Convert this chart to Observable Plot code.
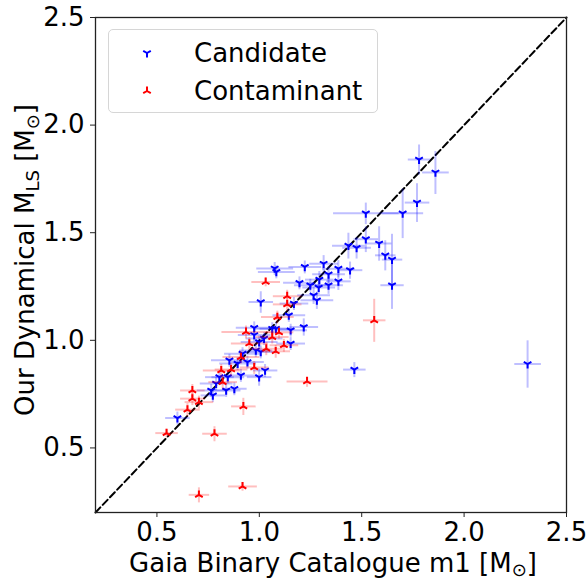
<!DOCTYPE html>
<html>
<head>
<meta charset="utf-8">
<script src="https://cdn.jsdelivr.net/npm/d3@7"></script>
<script src="https://cdn.jsdelivr.net/npm/@observablehq/plot@0.6"></script>
<style>
  html, body { margin: 0; padding: 0; background: white; }
  #wrap { position: relative; width: 586px; height: 583px; font-family: "DejaVu Sans", sans-serif; }
  #legend { position: absolute; left: 108px; top: 29px; width: 270px; height: 84px; box-sizing: border-box;
            border: 1px solid #d6d6d6; border-radius: 5px; background: rgba(255,255,255,0.85); }
  .lrow { position: absolute; left: 0; height: 30px; display: flex; align-items: center; font-size: 26px; color: black; }
  .lrow svg { position: absolute; left: 31px; }
  .lrow span { position: absolute; left: 85px; white-space: nowrap; }
</style>
</head>
<body>
<div id="wrap"></div>
<script>
// ---- data ----
const xTicks = [0.5, 1.0, 1.5, 2.0, 2.5];
const yTicks = [0.5, 1.0, 1.5, 2.0, 2.5];
const diag = [0.2, 2.5];

const candX  = [2.31,1.78,1.86,1.77,1.70,1.52,1.585,1.435,1.475,1.52,1.615,1.648,1.648,1.443,1.386,1.338,1.314,1.386,1.222,1.075,1.083,1.196,1.249,1.293,1.338,1.29,1.007,1.265,1.281,1.144,1.217,0.975,1.063,1.081,1.153,1.153,0.999,1.023,0.918,0.983,1.007,0.854,0.894,0.942,0.999,0.91,0.846,0.789,0.838,0.878,0.765,0.773,0.805,0.60,1.464,1.028,1.169,0.975];
const candY  = [0.89,1.84,1.78,1.64,1.59,1.59,1.45,1.44,1.43,1.47,1.395,1.375,1.256,1.326,1.333,1.307,1.356,1.274,1.341,1.334,1.318,1.267,1.256,1.282,1.256,1.245,1.178,1.209,1.186,1.116,1.062,1.058,1.054,1.054,1.047,0.985,0.992,1.008,0.938,0.953,0.946,0.907,0.892,0.899,0.829,0.837,0.829,0.799,0.767,0.775,0.767,0.744,0.829,0.639,0.864,0.860,1.171,1.025];
const candXe = [0.065,0.055,0.065,0.06,0.10,0.16,0.06,0.08,0.07,0.06,0.05,0.05,0.057,0.06,0.08,0.08,0.07,0.06,0.08,0.09,0.09,0.08,0.08,0.07,0.07,0.08,0.06,0.08,0.08,0.08,0.07,0.09,0.09,0.08,0.08,0.07,0.09,0.09,0.09,0.08,0.08,0.09,0.09,0.08,0.06,0.08,0.08,0.08,0.07,0.06,0.07,0.06,0.07,0.06,0.055,0.06,0.07,0.08];
const candYe = [0.11,0.07,0.10,0.09,0.115,0.05,0.08,0.06,0.05,0.06,0.07,0.12,0.11,0.04,0.04,0.04,0.04,0.04,0.03,0.03,0.03,0.03,0.03,0.04,0.04,0.03,0.05,0.04,0.04,0.03,0.04,0.03,0.03,0.03,0.03,0.03,0.03,0.03,0.03,0.03,0.03,0.03,0.03,0.03,0.04,0.03,0.03,0.03,0.03,0.03,0.03,0.03,0.03,0.03,0.035,0.03,0.03,0.03];

const contX  = [1.561,1.233,1.031,1.136,1.136,1.088,0.935,1.096,1.063,0.951,1.12,1.034,1.08,0.91,0.975,0.814,0.862,0.821,0.673,0.673,0.705,0.649,0.547,0.781,0.922,0.918,0.705];
const contY  = [1.093,0.809,1.271,1.205,1.167,1.108,1.039,1.037,1.015,0.985,0.977,0.961,0.949,0.922,0.874,0.860,0.865,0.806,0.767,0.729,0.713,0.678,0.569,0.566,0.693,0.321,0.282];
const contXe = [0.055,0.10,0.07,0.07,0.07,0.08,0.12,0.07,0.08,0.09,0.07,0.08,0.07,0.09,0.07,0.09,0.08,0.07,0.06,0.06,0.07,0.06,0.055,0.06,0.06,0.07,0.05];
const contYe = [0.10,0.025,0.02,0.03,0.03,0.03,0.03,0.03,0.03,0.03,0.03,0.03,0.03,0.03,0.03,0.03,0.03,0.03,0.03,0.03,0.03,0.03,0.02,0.035,0.04,0.02,0.035];

// ---- build tables ----
const cand = candX.map((x, i) => ({x, y: candY[i], xe: candXe[i], ye: candYe[i]}));
const cont = contX.map((x, i) => ({x, y: contY[i], xe: contXe[i], ye: contYe[i]}));
const diagData = diag.map(v => ({x: v, y: v}));

// matplotlib tri_down ("1") and tri_up ("2") markers
function tri(down) {
  return {
    draw(ctx, size) {
      const r = Math.sqrt(size / Math.PI);
      const s = down ? 1 : -1;
      ctx.moveTo(0, 0); ctx.lineTo(0, s * r);
      ctx.moveTo(0, 0); ctx.lineTo(-0.866 * r, -s * 0.5 * r);
      ctx.moveTo(0, 0); ctx.lineTo(0.866 * r, -s * 0.5 * r);
    }
  };
}
const triDown = tri(true), triUp = tri(false);

function errMarks(data, color, sym) {
  return [
    Plot.link(data, {x1: d => d.x - d.xe, x2: d => d.x + d.xe, y1: "y", y2: "y",
      stroke: color, strokeOpacity: 0.25, strokeWidth: 2}),
    Plot.link(data, {x1: "x", x2: "x", y1: d => d.y - d.ye, y2: d => d.y + d.ye,
      stroke: color, strokeOpacity: 0.25, strokeWidth: 2}),
    Plot.dot(data, {x: "x", y: "y", symbol: sym, r: 4.4, stroke: color, fill: "none", strokeWidth: 2})
  ];
}

const fmt = d3.format(".1f");
const chart = Plot.plot({
  width: 586, height: 583,
  marginLeft: 95, marginRight: 20, marginTop: 17, marginBottom: 71,
  style: {fontFamily: "DejaVu Sans", fontSize: "26px", color: "black", background: "white", overflow: "visible"},
  x: {domain: [0.2, 2.5]},
  y: {domain: [0.2, 2.5]},
  marks: [
    Plot.line(diagData, {x: "x", y: "y", stroke: "black", strokeWidth: 2, strokeDasharray: "7,3.5"}),
    ...errMarks(cand, "blue", triDown),
    ...errMarks(cont, "red", triUp),
    Plot.frame({stroke: "#222", strokeWidth: 1.3}),
    Plot.axisX({ticks: xTicks, tickFormat: fmt, tickSize: 5, tickPadding: 5, label: null, fontSize: 26, stroke: "#222"}),
    Plot.axisY({ticks: yTicks, tickFormat: fmt, tickSize: 5, tickPadding: 6, label: null, fontSize: 26, stroke: "#222"})
  ]
});

const wrap = document.getElementById("wrap");
wrap.appendChild(chart);

// axis titles with subscripts
const svg = d3.select(chart);
const xl = svg.append("text").attr("x", 333).attr("y", 572).attr("text-anchor", "middle")
  .attr("font-size", 26).attr("fill", "black");
xl.append("tspan").text("Gaia Binary Catalogue m1 [M");
xl.append("tspan").attr("dy", 4).attr("font-size", 18).text("\u2299");
xl.append("tspan").attr("dy", -4).text("]");

const yl = svg.append("text").attr("transform", "translate(34,260) rotate(-90)").attr("text-anchor", "middle")
  .attr("font-size", 26).attr("fill", "black");
yl.append("tspan").text("Our Dynamical M");
yl.append("tspan").attr("dy", 5).attr("font-size", 18).text("LS");
yl.append("tspan").attr("dy", -5).text(" [M");
yl.append("tspan").attr("dy", 5).attr("font-size", 18).text("\u2299");
yl.append("tspan").attr("dy", -5).text("]");

// legend
const legend = document.createElement("div");
legend.id = "legend";
legend.innerHTML = `
  <div class="lrow" style="top:8px"><svg width="14" height="14" viewBox="-7 -7 14 14">
    <path d="M0,0L0,4.4M0,0L-3.8,-2.2M0,0L3.8,-2.2" stroke="blue" stroke-width="2" fill="none"/></svg>
    <span>Candidate</span></div>
  <div class="lrow" style="top:46px"><svg width="14" height="14" viewBox="-7 -7 14 14">
    <path d="M0,0L0,-4.4M0,0L-3.8,2.2M0,0L3.8,2.2" stroke="red" stroke-width="2" fill="none"/></svg>
    <span>Contaminant</span></div>`;
wrap.appendChild(legend);
</script>
</body>
</html>
